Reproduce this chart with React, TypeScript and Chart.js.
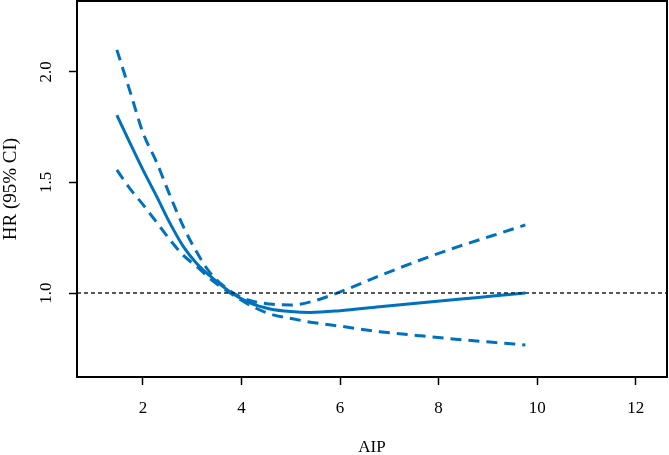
import React, { useEffect, useRef } from "react";
import { Chart, registerables } from "chart.js";

Chart.register(...registerables);

// AIP values at which the curves were read
const aipX = [1.47, 1.74, 2.0, 2.28, 2.55, 2.82, 3.09, 3.36, 3.8, 4.17, 4.58, 5.0, 5.4, 6.0, 6.8, 7.6, 8.4, 9.1, 9.76];
// Hazard ratio (solid line)
const hrY = [1.805, 1.677, 1.557, 1.436, 1.315, 1.21, 1.134, 1.077, 1.0, 0.955, 0.928, 0.916, 0.912, 0.92, 0.938, 0.955, 0.972, 0.986, 1.0];
// Upper 95% CI
const upperY = [2.1, 1.91, 1.725, 1.59, 1.44, 1.3, 1.185, 1.092, 1.005, 0.966, 0.95, 0.946, 0.96, 1.005, 1.078, 1.147, 1.21, 1.26, 1.308];
// Lower 95% CI
const lowerY = [1.557, 1.471, 1.4, 1.319, 1.24, 1.17, 1.12, 1.065, 0.995, 0.945, 0.905, 0.885, 0.868, 0.85, 0.825, 0.807, 0.79, 0.777, 0.765];

const refHR = 1;
const xTicks = [2, 4, 6, 8, 10, 12];
const yTicks = [1.0, 1.5, 2.0];
const xRange = [0.661, 12.635];
const yRange = [0.62, 2.321];

const BLUE = "#0072BD";
const FONT = "'Liberation Serif', 'Times New Roman', serif";

export default function App() {
  const ref = useRef<HTMLCanvasElement | null>(null);

  useEffect(() => {
    const canvas = ref.current;
    if (!canvas) return;
    const toPts = (ys: number[]) => aipX.map((x, i) => ({ x, y: ys[i] }));

    const boxPlugin = {
      id: "box",
      afterDraw(chart: any) {
        const { ctx, chartArea } = chart;
        ctx.save();
        ctx.strokeStyle = "#000";
        ctx.lineWidth = 2;
        ctx.strokeRect(chartArea.left, chartArea.top, chartArea.right - chartArea.left, chartArea.bottom - chartArea.top);
        ctx.restore();
      },
    };

    const chart = new Chart(canvas, {
      type: "line",
      data: {
        datasets: [
          {
            data: [
              { x: xRange[0], y: refHR },
              { x: xRange[1], y: refHR },
            ],
            borderColor: "#222",
            borderWidth: 1.5,
            borderDash: [4, 3],
            pointRadius: 0,
            fill: false,
          },
          {
            data: toPts(upperY),
            borderColor: BLUE,
            borderWidth: 3,
            borderDash: [11, 7],
            pointRadius: 0,
            cubicInterpolationMode: "monotone",
            fill: false,
          },
          {
            data: toPts(lowerY),
            borderColor: BLUE,
            borderWidth: 3,
            borderDash: [11, 7],
            pointRadius: 0,
            cubicInterpolationMode: "monotone",
            fill: false,
          },
          {
            data: toPts(hrY),
            borderColor: BLUE,
            borderWidth: 3,
            pointRadius: 0,
            cubicInterpolationMode: "monotone",
            fill: false,
          },
        ],
      },
      options: {
        responsive: false,
        animation: false,
        devicePixelRatio: 1,
        layout: { padding: { top: 1, right: 2, left: 0, bottom: 0 } },
        plugins: { legend: { display: false }, tooltip: { enabled: false } },
        scales: {
          x: {
            type: "linear",
            min: xRange[0],
            max: xRange[1],
            afterBuildTicks: (s: any) => {
              s.ticks = xTicks.map((v) => ({ value: v }));
            },
            afterFit: (s: any) => {
              s.height = 78;
              s.paddingLeft = 0;
              s.paddingRight = 0;
            },
            grid: { drawOnChartArea: false, drawTicks: true, tickLength: 8, tickColor: "#000", tickWidth: 1.5 },
            border: { display: false },
            ticks: {
              color: "#000",
              font: { family: FONT, size: 17 },
              padding: 13,
              maxRotation: 0,
              autoSkip: false,
              callback: (v: any) => String(v),
            },
            title: {
              display: true,
              text: "AIP",
              color: "#000",
              font: { family: FONT, size: 17 },
              padding: { top: 0, bottom: -3 },
            },
          },
          y: {
            type: "linear",
            min: yRange[0],
            max: yRange[1],
            afterBuildTicks: (s: any) => {
              s.ticks = yTicks.map((v) => ({ value: v }));
            },
            afterFit: (s: any) => {
              s.width = 77;
              s.paddingTop = 0;
              s.paddingBottom = 0;
            },
            grid: { drawOnChartArea: false, drawTicks: true, tickLength: 8, tickColor: "#000", tickWidth: 1.5 },
            border: { display: false },
            ticks: {
              color: "#000",
              font: { family: FONT, size: 17 },
              padding: 12,
              minRotation: 90,
              maxRotation: 90,
              crossAlign: "center",
              autoSkip: false,
              callback: (v: any) => Number(v).toFixed(1),
            },
            title: {
              display: true,
              text: "HR (95% CI)",
              color: "#000",
              font: { family: FONT, size: 19 },
              padding: 0,
            },
          },
        },
      },
      plugins: [boxPlugin],
    });
    return () => chart.destroy();
  }, []);

  return (
    <div style={{ position: "absolute", left: 0, top: 0, width: 669, height: 455, background: "#fff" }}>
      <canvas ref={ref} width={669} height={455} style={{ width: 669, height: 455, display: "block" }} />
    </div>
  );
}
